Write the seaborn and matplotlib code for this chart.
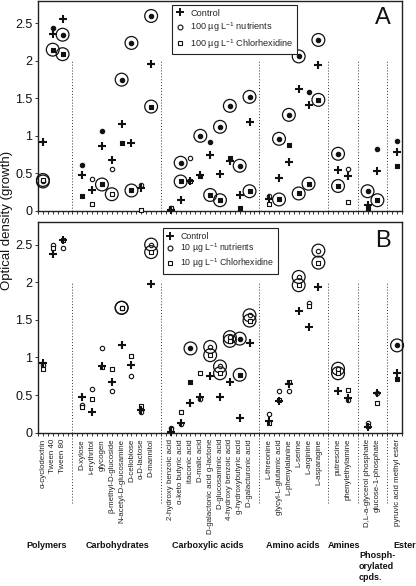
import numpy as np
import pandas as pd
import matplotlib.pyplot as plt
from matplotlib.lines import Line2D
import seaborn as sns

# EcoPlate substrates, in plate order
substrates = [
    'α-cyclodextrin', 'Tween 40', 'Tween 80',
    'D-xylose', 'i-erythritol', 'glycogen', 'β-methyl-D-glucoside',
    'N-acetyl-D-glucosamine', 'D-cellobiose', 'α-D-lactose', 'D-mannitol',
    '2-hydroxy benzoic acid', 'α-keto butyric acid', 'itaconic acid', 'D-malic acid',
    'D-galactonic acid g-lactone', 'D-glucosaminic acid', '4-hydroxy benzoic acid',
    'g-hydroxybutyric acid', 'D-galacturonic acid',
    'L-threonine', 'glycyl-L-glutamic acid', 'L-phenylalanine', 'L-serine',
    'L-arginine', 'L-asparagine',
    'putrescine', 'phenylethylamine',
    'D,L-a-glycerol phosphate', 'glucose-1-phosphate',
    'pyruvic acid methyl ester',
]
group_names = ['Polymers', 'Carbohydrates', 'Carboxylic acids', 'Amino acids',
               'Amines', 'Phosph-\norylated\ncpds.', 'Ester']
group_sizes = [3, 8, 9, 6, 2, 2, 1]

# marker codes: 0 open, 1 filled, 2 open + ring, 3 filled + ring
# Panel A (100 ug/L)
ctrl_a = [0.92, 2.36, 2.56, 0.48, 0.28, 0.87, 0.68, 1.16, 0.91, 0.30, 1.96,
          0.01, 0.14, 0.40, 0.48, 0.74, 0.49, 0.66, 0.21, 1.19,
          0.15, 0.44, 0.65, 1.62, 1.41, 1.94, 0.55, 0.47, 0.07, 0.53, 0.79]
nut_a = [0.39, 2.44, 2.35, 0.61, 0.42, 1.06, 0.56, 1.75, 2.24, 0.34, 2.60,
         0.03, 0.64, 0.70, 1.00, 0.92, 1.12, 1.40, 0.60, 1.52,
         0.20, 0.96, 1.28, 2.06, 1.59, 2.28, 0.76, 0.56, 0.26, 0.82, 0.93]
nut_a_code = [2, 1, 3, 1, 0, 1, 0, 3, 3, 0, 3,
              0, 3, 0, 3, 1, 3, 3, 3, 3,
              0, 3, 3, 3, 1, 3, 3, 0, 3, 1, 1]
chx_a = [0.41, 2.15, 2.09, 0.19, 0.09, 0.35, 0.22, 0.91, 0.27, 0.01, 1.39,
         0.04, 0.39, 0.40, 0.47, 0.21, 0.14, 0.70, 0.04, 0.26,
         0.09, 0.15, 0.88, 0.23, 0.36, 1.48, 0.33, 0.12, 0.04, 0.14, 0.60]
chx_a_code = [2, 3, 3, 1, 0, 3, 2, 1, 3, 0, 3,
              0, 3, 0, 1, 3, 3, 1, 1, 3,
              0, 3, 1, 3, 3, 3, 3, 0, 1, 3, 1]

# Panel B (10 ug/L)
ctrl_b = [0.92, 2.37, 2.56, 0.47, 0.27, 0.88, 0.67, 1.16, 0.90, 0.30, 1.97,
          0.01, 0.13, 0.40, 0.48, 0.75, 0.48, 0.67, 0.20, 1.19,
          0.15, 0.42, 0.65, 1.62, 1.41, 1.94, 0.55, 0.46, 0.07, 0.53, 0.80]
nut_b = [0.90, 2.50, 2.45, 0.37, 0.58, 1.12, 0.56, 1.66, 0.75, 0.28, 2.50,
         0.06, 0.12, 1.12, 0.45, 1.14, 0.88, 1.27, 1.25, 1.56,
         0.25, 0.55, 0.55, 2.07, 1.72, 2.42, 0.85, 0.43, 0.13, 0.53, 1.16]
nut_b_code = [0, 0, 0, 0, 0, 0, 0, 2, 0, 0, 2,
              0, 0, 3, 0, 2, 2, 2, 3, 2,
              0, 0, 0, 2, 0, 2, 2, 0, 0, 0, 3]
chx_b = [0.84, 2.46, 2.56, 0.34, 0.45, 0.87, 0.85, 1.66, 1.02, 0.35, 2.40,
         0.05, 0.28, 0.67, 0.80, 1.03, 0.79, 1.22, 0.77, 1.49,
         0.13, 0.43, 0.67, 1.96, 1.68, 2.26, 0.79, 0.57, 0.09, 0.39, 0.72]
chx_b_code = [0, 0, 0, 0, 0, 0, 0, 2, 0, 0, 2,
              0, 0, 1, 0, 2, 2, 2, 3, 2,
              0, 0, 0, 2, 0, 2, 2, 0, 0, 0, 1]

sns.set_theme(style='ticks')
plt.rcParams['font.family'] = ['Liberation Sans', 'DejaVu Sans']
plt.rcParams['mathtext.default'] = 'regular'
INK = '#111111'

# x positions: one empty slot between substrate groups (dotted separator)
pos, seps = [], []
x = 1
for g, n in enumerate(group_sizes):
    pos += list(range(x, x + n))
    x += n
    if g < len(group_sizes) - 1:
        seps.append(x)
        x += 1

df_a = pd.DataFrame({'pos': pos, 'ctrl': ctrl_a, 'nut': nut_a, 'nut_code': nut_a_code,
                     'chx': chx_a, 'chx_code': chx_a_code})
df_b = pd.DataFrame({'pos': pos, 'ctrl': ctrl_b, 'nut': nut_b, 'nut_code': nut_b_code,
                     'chx': chx_b, 'chx_code': chx_b_code})

fig = plt.figure(figsize=(4.16, 5.86), dpi=100)
W, H = 416, 586
axA = fig.add_axes([38 / W, 1 - 210.7 / H, 364 / W, 209.7 / H])
axB = fig.add_axes([38 / W, 1 - 432.7 / H, 364 / W, 210.7 / H])


def draw(ax, df, sep_bottom):
    ax.vlines(seps, sep_bottom, 2.0, colors='#333333', linestyles=(0, (1, 2)),
              lw=0.7, clip_on=False, zorder=1)
    for col, mk, s in [('nut', 'o', 10), ('chx', 's', 12)]:
        for code in range(4):
            sub = df[df[col + '_code'] == code]
            if sub.empty:
                continue
            face = INK if code in (1, 3) else 'white'
            sns.scatterplot(data=sub, x='pos', y=col, marker=mk, s=s, color=face,
                            edgecolor=INK, linewidth=0.8, ax=ax, legend=False,
                            clip_on=False, zorder=3)
        ringed = df[df[col + '_code'] >= 2]
        sns.scatterplot(data=ringed, x='pos', y=col, marker='o', s=85,
                        facecolor='none', edgecolor=INK, linewidth=0.9, ax=ax,
                        legend=False, clip_on=False, zorder=3)
    sns.scatterplot(data=df, x='pos', y='ctrl', marker='+', s=32, color=INK,
                    linewidth=1.5, ax=ax, legend=False, clip_on=False, zorder=4)
    ax.set_xlabel('')
    ax.set_ylabel('')
    ax.set_xlim(0.5, 37.5)
    ax.set_ylim(0, 2.8)
    ax.set_yticks([0, 0.5, 1, 1.5, 2, 2.5], ['0', '0.5', '1', '1.5', '2', '2.5'])
    ax.set_xticks(pos)
    ax.set_xticks(np.arange(0.5, 37.6, 0.5), minor=True)
    ax.tick_params(axis='both', which='both', direction='out', length=2.5,
                   width=0.7, color='#333333')
    ax.tick_params(axis='y', labelsize=9, pad=1.5, labelcolor=INK)
    for sp in ax.spines.values():
        sp.set_linewidth(1.0)
        sp.set_color('#222222')


draw(axA, df_a, 0.0)
draw(axB, df_b, -0.94)
axA.set_xticklabels([])
axB.set_xticklabels(substrates, rotation=90, fontsize=5.7, color='#222222')
axB.tick_params(axis='x', pad=2)


def add_legend(ax, dose, anchor, fs, spacing):
    handles = [Line2D([], [], ls='none', marker='+', color=INK, ms=6, mew=1.4),
               Line2D([], [], ls='none', marker='o', mfc='white', mec=INK, ms=3.5, mew=0.8),
               Line2D([], [], ls='none', marker='s', mfc='white', mec=INK, ms=3.5, mew=0.8)]
    labels = ['Control', dose + ' µg L$^{-1}$ nutrients', dose + ' µg L$^{-1}$ Chlorhexidine']
    leg = ax.legend(handles, labels, loc='upper left', bbox_to_anchor=anchor,
                    fontsize=fs, frameon=True, fancybox=False, edgecolor='#222222',
                    framealpha=1, handlelength=0.9, handletextpad=0.7,
                    borderpad=0.4, labelspacing=spacing, borderaxespad=0)
    leg.get_frame().set_linewidth(0.8)


add_legend(axA, '100', (0.368, 0.981), 6.6, 0.3)
add_legend(axB, '10', (0.343, 0.971), 6.3, 0.12)

axA.text(0.948, 0.919, 'A', transform=axA.transAxes, fontsize=17,
         ha='center', va='center', color=INK)
axB.text(0.948, 0.91, 'B', transform=axB.transAxes, fontsize=17,
         ha='center', va='center', color=INK)

fig.text(7 / W, 1 - 220 / H, 'Optical density (growth)', rotation=90,
         ha='center', va='center', fontsize=9.5, color=INK)

# group labels under the substrate names
group_x = [47, 117, 208, 293, 344, 359, 405]
for name, gx in zip(group_names, group_x):
    if '\n' in name:
        fig.text(gx / W, 1 - 551 / H, name, ha='left', va='top', fontsize=6.5,
                 fontweight='bold', linespacing=1.25, color=INK)
    else:
        fig.text(gx / W, 1 - 546 / H, name, ha='center', va='center', fontsize=6.5,
                 fontweight='bold', color=INK)

fig.savefig('out.png', dpi=100)
